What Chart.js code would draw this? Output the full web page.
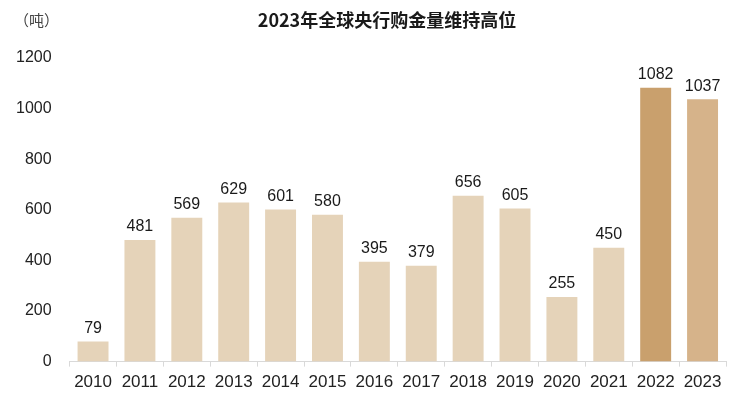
<!DOCTYPE html>
<html>
<head>
<meta charset="utf-8">
<script src="https://cdn.jsdelivr.net/npm/chart.js@4"></script>
<style>
  html, body { margin: 0; padding: 0; background: #fff; }
  #wrap { width: 744px; height: 399px; }
</style>
</head>
<body>
<div id="wrap"><canvas id="goldChart"></canvas></div>
<script>
// Central bank gold purchases (tonnes)
const years = ['2010', '2011', '2012', '2013', '2014', '2015', '2016', '2017', '2018', '2019', '2020', '2021', '2022', '2023'];
const tonnes = [79, 481, 569, 629, 601, 580, 395, 379, 656, 605, 255, 450, 1082, 1037];
const barColors = ['#e5d3b9', '#e5d3b9', '#e5d3b9', '#e5d3b9', '#e5d3b9', '#e5d3b9', '#e5d3b9',
                   '#e5d3b9', '#e5d3b9', '#e5d3b9', '#e5d3b9', '#e5d3b9', '#c9a06d', '#d6b38a'];
const yTicks = [0, 200, 400, 600, 800, 1000, 1200];

const chartTitle = '2023年全球央行购金量维持高位';
const unitLabel = '（吨）';
const FONT = '"Liberation Sans", Arial, "Noto Sans CJK SC", sans-serif';

// draws the title, unit and value labels
const textPlugin = {
    id: 'textPlugin',
    afterDatasetsDraw(chart) {
        const ctx = chart.ctx;
        ctx.save();
        ctx.fillStyle = '#1a1a1a';
        ctx.textAlign = 'center';
        ctx.textBaseline = 'bottom';
        ctx.font = '16px ' + FONT;
        chart.getDatasetMeta(0).data.forEach((bar, i) => {
            ctx.fillText(String(tonnes[i]), bar.x, bar.y - 5);
        });

        ctx.font = 'bold 18px "Noto Sans CJK SC", sans-serif';
        ctx.textBaseline = 'middle';
        ctx.fillText(chartTitle, 387, 20);

        ctx.font = '15px "Noto Sans CJK SC", sans-serif';
        ctx.fillStyle = '#444';
        ctx.textAlign = 'left';
        ctx.fillText(unitLabel, 14, 20);
        ctx.restore();
    }
};

new Chart(document.getElementById('goldChart'), {
    type: 'bar',
    data: {
        labels: years,
        datasets: [{
            data: tonnes,
            backgroundColor: barColors,
            borderWidth: 0,
            categoryPercentage: 1,
            barPercentage: 0.66
        }]
    },
    options: {
        responsive: true,
        maintainAspectRatio: false,
        animation: false,
        layout: { padding: { top: 58, left: 6, right: 18, bottom: 0 } },
        plugins: {
            legend: { display: false },
            tooltip: { enabled: false }
        },
        scales: {
            y: {
                min: 0,
                max: 1200,
                afterBuildTicks: axis => { axis.ticks = yTicks.map(v => ({ value: v })); },
                grid: { display: false },
                border: { display: false },
                ticks: {
                    color: '#222',
                    padding: 10,
                    callback: v => String(v),
                    font: { size: 16, family: FONT }
                }
            },
            x: {
                grid: {
                    offset: true,
                    drawOnChartArea: false,
                    tickLength: 5,
                    color: '#d9d9d9'
                },
                border: { display: true, color: '#d9d9d9' },
                ticks: {
                    color: '#222',
                    padding: 6,
                    maxRotation: 0,
                    font: { size: 17, family: FONT }
                }
            }
        }
    },
    plugins: [textPlugin]
});
</script>
</body>
</html>
